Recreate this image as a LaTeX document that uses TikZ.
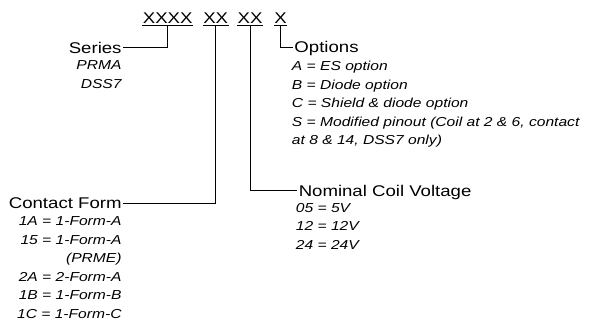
\documentclass[tikz,border=0pt]{standalone}
\usepackage{fontspec}
\setmainfont{Liberation Sans}[FakeStretch=1.2]
\usepackage{tikz}

\begin{document}
\begin{tikzpicture}[x=1pt, y=-1pt, line width=0.9pt,
    code/.style={font=\fontsize{15.5}{18}\selectfont, anchor=base, inner xsep=0pt, inner ysep=1.3pt},
    head/.style={font=\fontsize{15.5}{18}\selectfont, text depth=0pt, inner sep=1pt},
    itemlist/.style={font=\fontsize{13}{18.5}\selectfont\itshape, inner sep=0pt}]
    \useasboundingbox (0,0) rectangle (593,320);

    % 1. The part number code
    \node[code] (c1) at (167.7,24) {XXXX};
    \node[code] (c2) at (215.7,24) {XX};
    \node[code] (c3) at (250,24) {XX};
    \node[code] (c4) at (280.5,24) {X};
    \foreach \n in {c1,c2,c3,c4} {
        \draw (\n.south west) -- (\n.south east);
    }

    % 2. Series (left, top)
    \node[head, anchor=east] (series) at (123,47.5) {Series};
    \node[itemlist, anchor=north east, align=right] (serieslist) at (122,60.4) {PRMA\\DSS7};

    % 3. Options (right, top)
    \node[head, anchor=west] (options) at (293,47) {Options};
    \node[itemlist, anchor=north west, align=left] (optionslist) at (291.5,60.8) {%
        A = ES option\\
        B = Diode option\\
        C = Shield \& diode option\\
        S = Modified pinout (Coil at 2 \& 6, contact\\
        at 8 \& 14, DSS7 only)};

    % 4. Contact form (left, bottom)
    \node[head, anchor=east] (contact) at (123,203.5) {Contact Form};
    \node[itemlist, anchor=north east, align=right] (contactlist) at (122,216.5) {%
        1A = 1-Form-A\\
        15 = 1-Form-A\hspace*{3pt}\\
        (PRME)\\
        2A = 2-Form-A\\
        1B = 1-Form-B\\
        1C = 1-Form-C};

    % 5. Nominal coil voltage (right, bottom)
    \node[head, anchor=west] (nominal) at (297.3,190.5) {Nominal Coil Voltage};
    \node[itemlist, anchor=north west, align=left] (nominallist) at (295.5,202.8) {%
        05 = 5V\\
        12 = 12V\\
        24 = 24V};

    % 6. Leader lines
    \draw (c1.south) |- (series.east);
    \draw (c2.south) |- (contact.east);
    \draw (c3.south) |- (nominal.west);
    \draw (c4.south) |- (options.west);

\end{tikzpicture}
\end{document}
